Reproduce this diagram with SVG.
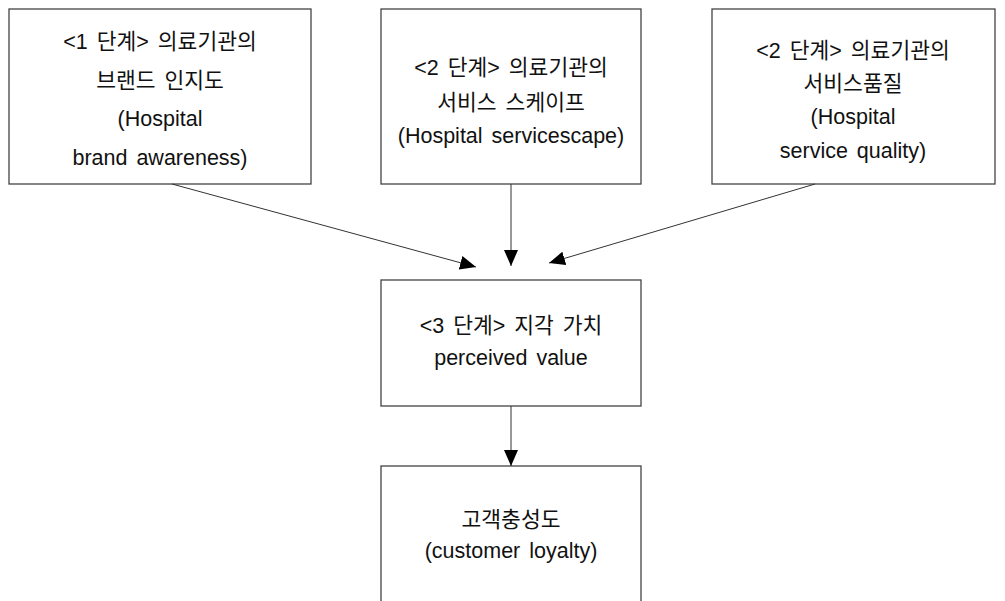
<svg xmlns="http://www.w3.org/2000/svg" width="1005" height="601" viewBox="0 0 1005 601">
<defs>
<style>
.box{fill:#fff;stroke:#444;stroke-width:1.3}
.t{font-family:"Liberation Sans","Noto Sans CJK KR",sans-serif;font-size:21.5px;fill:#111;text-anchor:middle;word-spacing:3px}
.c{stroke:#333;stroke-width:1;fill:none;marker-end:url(#ah)}
</style>
<marker id="ah" markerUnits="userSpaceOnUse" markerWidth="16" markerHeight="14" refX="16" refY="7" orient="auto">
<path d="M0,0 L16,7 L0,14 Z" fill="#000"/>
</marker>
</defs>
<rect width="1005" height="601" fill="#fff"/>
<g id="node1">
<rect class="box" x="9" y="9" width="302" height="175"/>
<text class="t" x="160" y="49">&lt;1 단계&gt; 의료기관의</text>
<text class="t" x="160" y="88">브랜드 인지도</text>
<text class="t" x="160" y="126">(Hospital</text>
<text class="t" x="160" y="165">brand awareness)</text>
</g>
<g id="node2">
<rect class="box" x="381" y="9" width="260" height="175"/>
<text class="t" x="511" y="75">&lt;2 단계&gt; 의료기관의</text>
<text class="t" x="511" y="110">서비스 스케이프</text>
<text class="t" x="511" y="143">(Hospital servicescape)</text>
</g>
<g id="node3">
<rect class="box" x="712" y="9" width="283" height="175"/>
<text class="t" x="853" y="58">&lt;2 단계&gt; 의료기관의</text>
<text class="t" x="853" y="91">서비스품질</text>
<text class="t" x="853" y="124">(Hospital</text>
<text class="t" x="853" y="158">service quality)</text>
</g>
<g id="node4">
<rect class="box" x="381" y="280" width="260" height="126"/>
<text class="t" x="511" y="333">&lt;3 단계&gt; 지각 가치</text>
<text class="t" x="511" y="365">perceived value</text>
</g>
<g id="node5">
<rect class="box" x="381" y="466" width="260" height="145"/>
<text class="t" x="511" y="527">고객충성도</text>
<text class="t" x="511" y="558">(customer loyalty)</text>
</g>
<g id="connectors">
<line class="c" x1="172" y1="184" x2="476" y2="267"/>
<line class="c" x1="511" y1="184" x2="511" y2="266"/>
<line class="c" x1="815" y1="184" x2="549" y2="263"/>
<line class="c" x1="511" y1="406" x2="511" y2="466"/>
</g>
</svg>
